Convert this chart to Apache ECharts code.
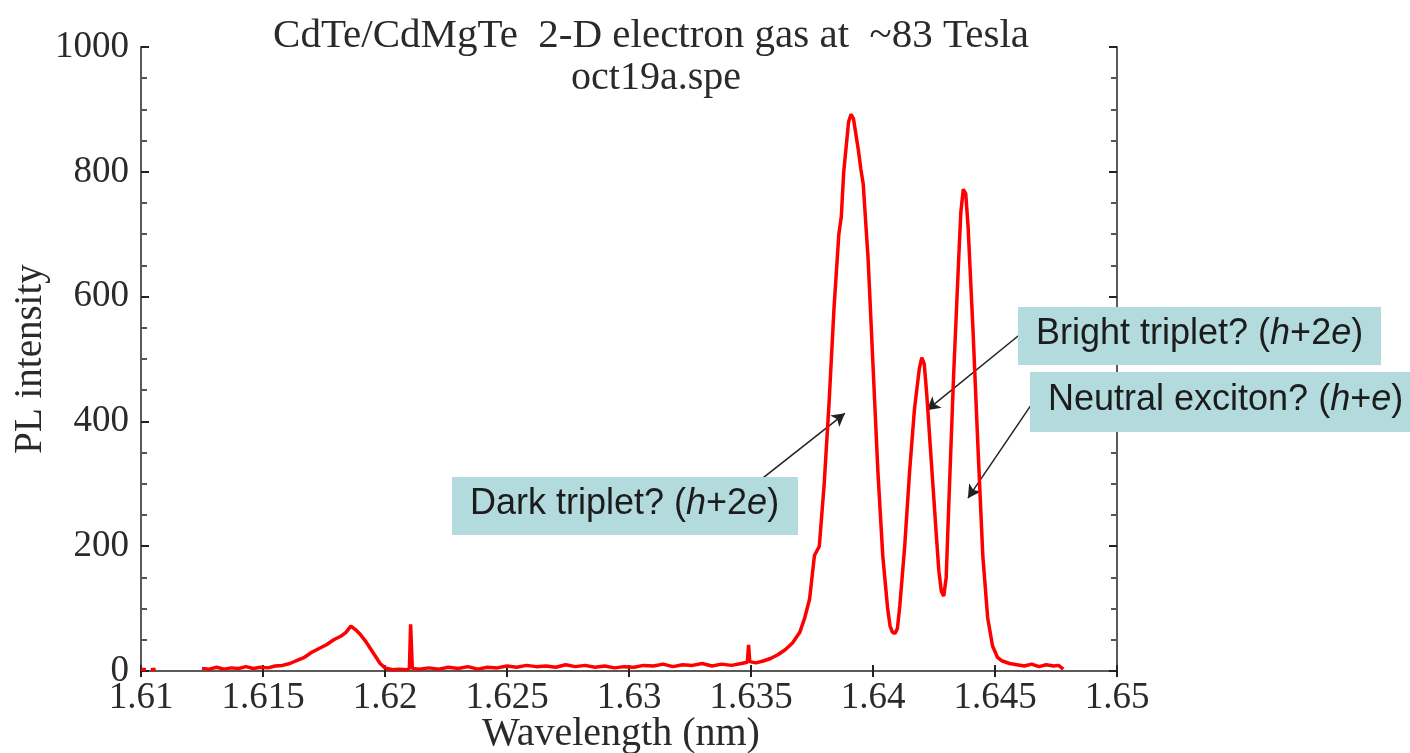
<!DOCTYPE html>
<html>
<head>
<meta charset="utf-8">
<script src="https://cdn.jsdelivr.net/npm/echarts@6/dist/echarts.min.js"></script>
<style>
  html, body { margin: 0; padding: 0; background: #fff; }
  #chart { width: 1410px; height: 753px; }
</style>
</head>
<body>
<div id="chart"></div>
<script>
// spectrum ('-' = gap in the trace)
const wavelength = [
  1.6100, 1.6102, 1.6103, 1.6104, 1.6106, 1.6111, 1.6113, 1.6115,
  1.6125, 1.6128, 1.6131, 1.6134, 1.6137, 1.6140, 1.6143, 1.6146, 1.6149,
  1.6152, 1.6155, 1.6158, 1.6161, 1.6164, 1.6167, 1.6170, 1.6173, 1.6176,
  1.6179, 1.6182, 1.6184, 1.6186, 1.6188, 1.6190, 1.6192, 1.6194, 1.6196,
  1.6198, 1.6200, 1.6203, 1.6206, 1.6209, 1.62100, 1.62105, 1.62112, 1.6214,
  1.6218, 1.6222, 1.6226, 1.6230, 1.6234, 1.6238, 1.6242, 1.6246, 1.6250,
  1.6254, 1.6258, 1.6262, 1.6266, 1.6270, 1.6274, 1.6278, 1.6282, 1.6286,
  1.6290, 1.6294, 1.6298, 1.6302, 1.6306, 1.6310, 1.6314, 1.6318, 1.6322,
  1.6326, 1.6330, 1.6334, 1.6338, 1.6342, 1.6346, 1.63485, 1.6349, 1.63495,
  1.6352, 1.6355, 1.6358, 1.6361, 1.6364, 1.6367, 1.6370, 1.6372, 1.6374,
  1.6375, 1.6376, 1.6378, 1.6380, 1.6382, 1.6384, 1.6386, 1.6387, 1.6388,
  1.6390, 1.6391, 1.6392, 1.6393, 1.6394, 1.6395, 1.6396, 1.6398, 1.6400,
  1.6402, 1.6404, 1.6406, 1.6407, 1.6408, 1.6409, 1.6410, 1.6411, 1.6413,
  1.6415, 1.6417, 1.6419, 1.6420, 1.6421, 1.6422, 1.6424, 1.6426, 1.6427,
  1.6428, 1.6429, 1.6430, 1.6431, 1.6433, 1.6435, 1.6436, 1.6437, 1.6438,
  1.6439, 1.6441, 1.6443, 1.6445, 1.6447, 1.6449, 1.6451, 1.6453, 1.6456,
  1.6459, 1.6462, 1.6465, 1.6468, 1.6471, 1.6474, 1.6476, 1.6478
];
const intensity = [
  3, 2, '-', 2, 3, '-', 2, '-',
  4, 3, 6, 3, 5, 4, 7, 4, 6,
  5, 8, 9, 12, 17, 22, 30, 36, 42,
  50, 56, 62, 72, 66, 58, 48, 36, 24,
  12, 5, 2, 3, 2, 4, 75, 4, 3,
  5, 3, 6, 4, 7, 3, 6, 5, 8,
  6, 9, 7, 8, 6, 10, 7, 9, 6,
  8, 5, 7, 6, 9, 8, 11, 7, 10,
  9, 12, 8, 11, 9, 12, 14, 42, 15,
  13, 16, 20, 26, 34, 45, 62, 85, 115,
  150, 185, 200, 300, 430, 580, 700, 728, 800,
  880, 892, 885, 860, 835, 805, 780, 660, 490,
  320, 185, 100, 72, 62, 60, 68, 105, 200,
  320, 420, 485, 502, 492, 445, 330, 215, 160,
  128, 120, 150, 260, 470, 650, 735, 772, 765,
  710, 545, 360, 185, 85, 40, 22, 16, 12,
  10, 8, 11, 7, 10, 8, 9, 3
];

const xTicks = [1.61, 1.615, 1.62, 1.625, 1.63, 1.635, 1.64, 1.645, 1.65];
const yTicks = [0, 200, 400, 600, 800, 1000];

const notes = [
  { text: 'Dark triplet? ', tail: ['h', '+2', 'e', ')'], from: [1.63496, 293], to: [1.63885, 413] },
  { text: 'Bright triplet? ', tail: ['h', '+2', 'e', ')'], from: [1.64611, 542], to: [1.64221, 418] },
  { text: 'Neutral exciton? ', tail: ['h', '+', 'e', ')'], from: [1.64656, 431], to: [1.64389, 277] }
];

const chart = echarts.init(document.getElementById('chart'));

const serif = '"Liberation Serif", "DejaVu Serif", serif';
const sans = '"Liberation Sans", Arial, sans-serif';
const frame = '#5a5a5a';
const ink = '#2a2a2a';

const points = wavelength.map((w, i) => [w, intensity[i]]);

const boxes = [
  { x: 452, y: 477, w: 346, h: 58 },
  { x: 1018, y: 307, w: 363, h: 58 },
  { x: 1030, y: 372, w: 380, h: 60 }
];

const graphics = [];
notes.forEach((n, i) => {
  const b = boxes[i];
  graphics.push({
    type: 'rect', left: b.x, top: b.y, z: 10,
    shape: { width: b.w, height: b.h },
    style: { fill: '#b3dbdd' }
  });
  graphics.push({
    type: 'text', left: b.x + 18, top: b.y + b.h / 2 - 20, z: 11,
    style: {
      text: '{n|' + n.text + '(}{i|' + n.tail[0] + '}{n|' + n.tail[1] + '}{i|' + n.tail[2] + '}{n|' + n.tail[3] + '}',
      rich: {
        n: { fontFamily: sans, fontSize: 36, fill: '#1c1c1c' },
        i: { fontFamily: sans, fontSize: 36, fontStyle: 'italic', fill: '#1c1c1c' }
      }
    }
  });
});

const fmtX = (v) => String(parseFloat(v.toFixed(3)));

chart.setOption({
  animation: false,
  backgroundColor: '#fff',
  title: [
    {
      text: 'CdTe/CdMgTe  2-D electron gas at  ~83 Tesla',
      left: 646, top: 11, textAlign: 'center',
      textStyle: { fontFamily: serif, fontSize: 41, fontWeight: 'normal', color: ink }
    },
    {
      text: 'oct19a.spe',
      left: 651, top: 53, textAlign: 'center',
      textStyle: { fontFamily: serif, fontSize: 40, fontWeight: 'normal', color: ink }
    }
  ],
  grid: { left: 141, right: 293, top: 47, bottom: 82, containLabel: false, outerBoundsMode: 'none' },
  xAxis: [
    {
      type: 'value', min: xTicks[0], max: xTicks[xTicks.length - 1], interval: 0.005,
      name: 'Wavelength (nm)', nameLocation: 'middle', nameGap: 43, nameMoveOverlap: false,
      nameTextStyle: { fontFamily: serif, fontSize: 40, color: ink, padding: [0, 16, 0, 0] },
      axisLine: { show: true, lineStyle: { color: frame, width: 2 } },
      axisTick: { inside: true, length: 6, lineStyle: { color: '#222', width: 2 } },
      axisLabel: { formatter: fmtX, fontFamily: serif, fontSize: 37, color: ink, margin: 9 },
      splitLine: { show: false }
    },
    {
      type: 'value', position: 'top', min: xTicks[0], max: xTicks[xTicks.length - 1], interval: 0.005,
      axisLine: { show: true, lineStyle: { color: frame, width: 2 } },
      axisTick: { inside: true, length: 6, lineStyle: { color: '#222', width: 2 } },
      axisLabel: { show: false },
      splitLine: { show: false }
    }
  ],
  yAxis: [
    {
      type: 'value', min: yTicks[0], max: yTicks[yTicks.length - 1], interval: 200,
      name: 'PL intensity', nameLocation: 'middle', nameGap: 91, nameRotate: 90, nameMoveOverlap: false,
      nameTextStyle: { fontFamily: serif, fontSize: 39, color: ink },
      axisLine: { show: true, lineStyle: { color: frame, width: 2 } },
      axisTick: { inside: true, length: 8, lineStyle: { color: '#222', width: 2 } },
      minorTick: { show: true, splitNumber: 4, length: 6, lineStyle: { color: '#555', width: 2 } },
      axisLabel: { formatter: (v) => String(v), fontFamily: serif, fontSize: 37, color: ink, margin: 12 },
      splitLine: { show: false }
    },
    {
      type: 'value', position: 'right', min: yTicks[0], max: yTicks[yTicks.length - 1], interval: 200,
      axisLine: { show: true, lineStyle: { color: frame, width: 2 } },
      axisTick: { inside: true, length: 8, lineStyle: { color: '#222', width: 2 } },
      minorTick: { show: true, splitNumber: 4, length: 6, lineStyle: { color: '#555', width: 2 } },
      axisLabel: { show: false },
      splitLine: { show: false }
    }
  ],
  series: [
    {
      type: 'line',
      data: points,
      showSymbol: false,
      connectNulls: false,
      lineStyle: { color: '#ff0000', width: 3.5 },
      itemStyle: { color: '#ff0000' },
      z: 5,
      markLine: {
        silent: true,
        symbol: ['none', 'arrow'],
        symbolSize: [11, 13],
        label: { show: false },
        lineStyle: { color: '#222', width: 1.5, type: 'solid' },
        data: notes.map((n) => [
          { coord: n.from },
          { coord: n.to }
        ])
      }
    }
  ],
  graphic: graphics
});

window.addEventListener('resize', () => {
  chart && chart.resize();
});
</script>
</body>
</html>
